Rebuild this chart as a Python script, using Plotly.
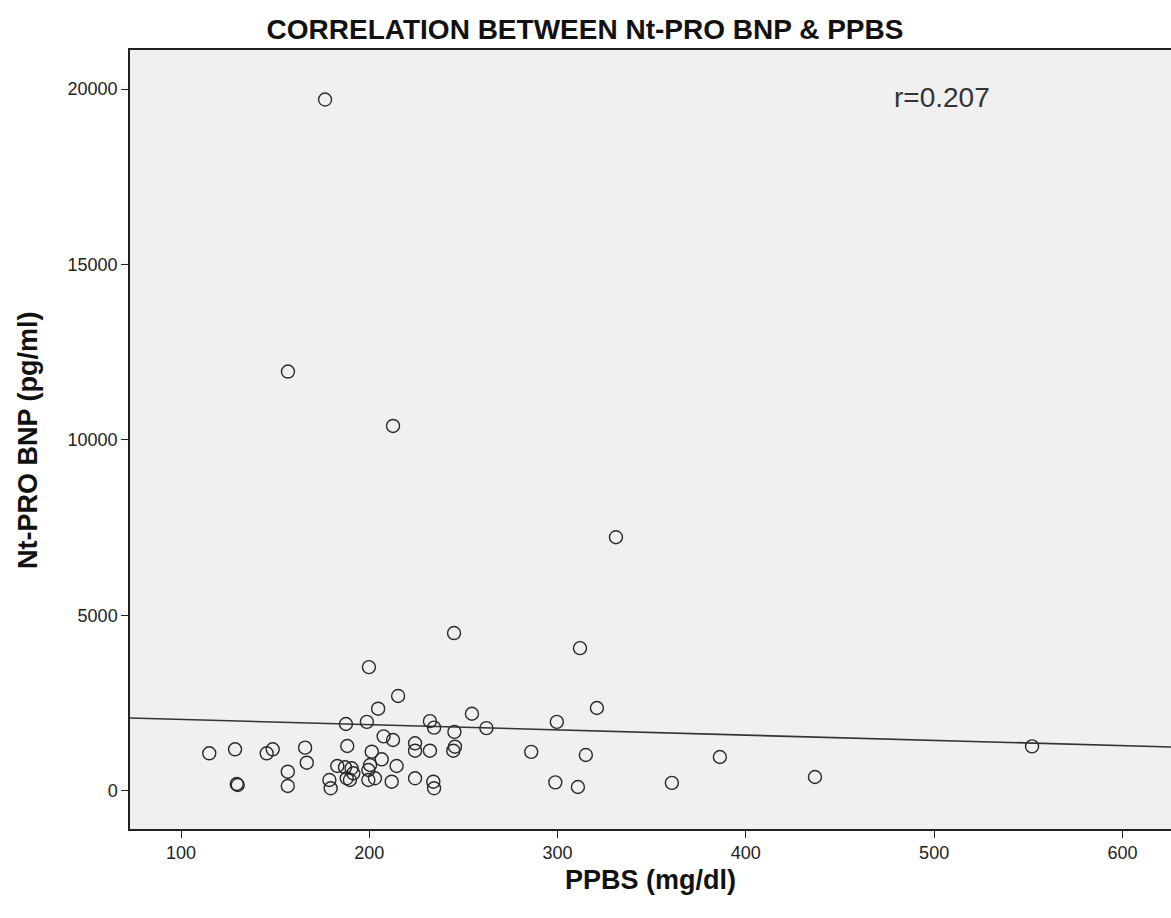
import plotly.graph_objects as go

# PPBS (mg/dl) and Nt-PRO BNP (pg/ml) values
ppbs = [176.5, 156.8, 212.6, 331.0, 245.0, 311.9, 199.8, 215.3, 320.9, 254.5,
        204.7, 262.2, 299.6, 232.2, 187.6, 198.7, 245.2, 234.4, 207.6, 212.6,
        286.0, 315.0, 386.2, 552.0, 436.7, 360.7, 298.8, 310.8, 115.0, 128.7,
        130.1, 129.6, 145.5, 148.7, 156.7, 156.7, 165.9, 166.8, 188.3, 224.3,
        224.3, 232.2, 201.3, 206.6, 214.5, 183.0, 187.1, 190.6, 200.4, 199.5,
        191.5, 188.0, 189.7, 199.5, 203.0, 178.8, 179.5, 211.9, 224.3, 234.0,
        234.4, 245.5, 244.6]
nt_pro_bnp = [19700, 11950, 10400, 7230, 4500, 4070, 3530, 2707, 2365, 2200,
              2345, 1790, 1970, 1990, 1909, 1970, 1685, 1805, 1557, 1453,
              1115, 1026, 969, 1270, 399, 232, 246, 114, 1074, 1188,
              171, 200, 1074, 1188, 550, 142, 1234, 806, 1282, 1359,
              1148, 1148, 1120, 903, 712, 712, 675, 647, 741, 598,
              504, 362, 313, 313, 362, 313, 77, 265, 362, 265,
              77, 1262, 1148]

# fit line (total) end points
fit_ppbs = [72.9, 625.8]
fit_bnp = [2080, 1254]

x_ticks = [100, 200, 300, 400, 500, 600]
y_ticks = [0, 5000, 10000, 15000, 20000]

FONT = "Liberation Sans, Arial, sans-serif"
W, H = 1171, 918
ML, MR, MT, MB = 130, 0, 50, 89
PW, PH = W - ML - MR, H - MT - MB

fig = go.Figure()
fig.add_trace(go.Scatter(
    x=fit_ppbs, y=fit_bnp, mode="lines",
    line=dict(color="#333333", width=1.6), hoverinfo="skip", showlegend=False))
fig.add_trace(go.Scatter(
    x=ppbs, y=nt_pro_bnp, mode="markers",
    marker=dict(symbol="circle-open", size=13, color="#2a2a2a",
                line=dict(width=1.4, color="#2a2a2a")),
    showlegend=False))

fig.add_annotation(x=504, y=19770, xref="x", yref="y", text="r=0.207",
                   showarrow=False, font=dict(family=FONT, size=28, color="#333333"))

# axis titles placed at their reference positions
fig.add_annotation(x=(650 - ML) / PW, y=-(880 - (H - MB)) / PH, xref="paper", yref="paper",
                   text="<b>PPBS (mg/dl)</b>", showarrow=False,
                   xanchor="center", yanchor="middle",
                   font=dict(family=FONT, size=27, color="#111111"))
fig.add_annotation(x=(28 - ML) / PW, y=((H - MB) - 440) / PH, xref="paper", yref="paper",
                   text="<b>Nt-PRO BNP (pg/ml)</b>", showarrow=False, textangle=-90,
                   xanchor="center", yanchor="middle",
                   font=dict(family=FONT, size=27, color="#111111"))

fig.update_layout(
    width=W, height=H,
    margin=dict(l=ML, r=MR, t=MT, b=MB),
    paper_bgcolor="white", plot_bgcolor="#F0F0F0",
    title=dict(text="<b>CORRELATION BETWEEN Nt-PRO BNP & PPBS</b>",
               x=585 / W, xanchor="center", y=1 - 29 / H, yanchor="middle",
               font=dict(family=FONT, size=28, color="#111111")),
    font=dict(family=FONT, color="#222222"),
)
fig.update_xaxes(
    range=[72.9, 625.8], tickvals=x_ticks, ticks="outside", ticklen=7,
    tickcolor="#222222", showgrid=False, zeroline=False,
    showline=True, linecolor="#222222", linewidth=1.5, mirror=True,
    tickfont=dict(size=18, color="#222222"))
fig.update_yaxes(
    range=[-1083, 21111], tickvals=y_ticks, tickformat="d", ticks="outside", ticklen=7,
    tickcolor="#222222", showgrid=False, zeroline=False,
    showline=True, linecolor="#222222", linewidth=1.5, mirror=False,
    tickfont=dict(size=18, color="#222222"))

fig.write_html("out.html")
